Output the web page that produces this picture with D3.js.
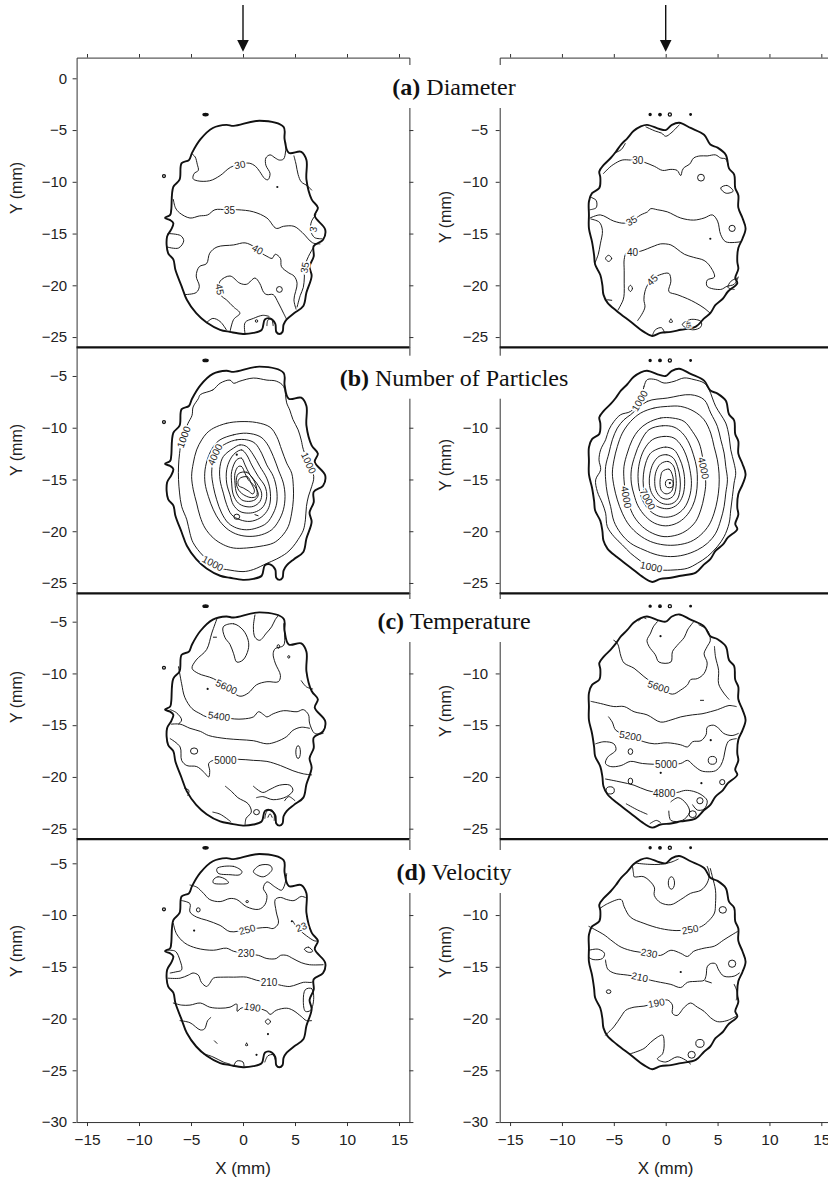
<!DOCTYPE html>
<html>
<head>
<meta charset="utf-8">
<script src="https://cdn.jsdelivr.net/npm/d3@7"></script>
<style>
  body { margin: 0; background: #fff; }
  svg { display: block; }
</style>
</head>
<body>
<svg id="chart" width="828" height="1179"></svg>
<script>
// ---------------- data (mm) ----------------
const xDomain = [-16, 16];
const xTicks = [-15, -10, -5, 0, 5, 10, 15];
const panelLetters = ["(a)", "(b)", "(c)", "(d)"];
const panelNames = ["Diameter", "Number of Particles", "Temperature", "Velocity"];
const yDomains = [[2, -26], [-2.2, -26], [-2.2, -26], [-2.7, -30]];
const yTicksLeft = [
  [0, -5, -10, -15, -20, -25],
  [-5, -10, -15, -20, -25],
  [-5, -10, -15, -20, -25],
  [-5, -10, -15, -20, -25, -30]
];
const yTicksRight = [
  [-5, -10, -15, -20, -25],
  [-10, -15, -20, -25],
  [-10, -15, -20, -25],
  [-10, -15, -20, -25, -30]
];

// outer edge of the measured spray region (thick outline)
const boundaryLeft = [[-0.9,-4.6],[1.6,-4.1],[3.9,-4.7],[4.0,-5.9],[4.4,-7.2],[5.6,-7.1],[6.1,-7.9],[6.1,-9.8],[6.6,-11.7],[7.2,-12.5],[6.9,-13.3],[7.9,-14.6],[7.7,-15.6],[6.8,-16.2],[6.8,-17.2],[6.4,-18.2],[6.6,-19.1],[6.1,-20.7],[5.8,-22.0],[4.9,-22.7],[4.2,-23.3],[3.9,-23.8],[3.8,-24.5],[3.5,-24.7],[3.2,-24.5],[3.1,-23.7],[2.6,-23.2],[2.1,-23.3],[1.8,-24.3],[1.0,-24.6],[0,-24.7],[-1.25,-24.5],[-2.2,-24.3],[-3.5,-23.6],[-4.5,-22.7],[-5.4,-21.4],[-5.9,-20.1],[-6.5,-18.5],[-6.7,-17.5],[-7.2,-16.9],[-7.3,-15.3],[-6.9,-14.6],[-6.7,-14.0],[-7.0,-13.7],[-7.5,-13.5],[-7.0,-13.2],[-6.9,-12.7],[-6.7,-10.5],[-6.1,-9.8],[-5.9,-8.2],[-5.2,-7.9],[-4.9,-7.2],[-4.1,-5.9],[-2.9,-4.8],[-1.6,-4.5]];
const boundaryRight = [[-2.4,-4.65],[-1.8,-4.5],[-0.6,-4.9],[0,-5.0],[0.6,-4.5],[1.3,-4.3],[2.4,-4.8],[3.7,-5.45],[4.3,-6.4],[5.0,-6.7],[5.8,-7.4],[6.1,-8.7],[6.6,-9.3],[6.7,-10.6],[7.0,-11.3],[7.0,-12.5],[7.4,-13.5],[7.7,-14.5],[7.4,-15.5],[7.0,-16.4],[6.9,-17.7],[7.0,-18.4],[6.7,-19.3],[6.9,-19.8],[6.0,-20.6],[5.5,-21.3],[4.8,-21.9],[4.3,-22.7],[3.7,-23.2],[2.9,-24.0],[1.45,-24.3],[0.5,-24.5],[-0.5,-24.6],[-1.3,-24.9],[-2.1,-24.5],[-3.4,-23.5],[-4.7,-22.5],[-5.6,-21.7],[-6.0,-20.9],[-6.1,-20.0],[-6.3,-19.0],[-6.8,-18.0],[-6.9,-17.1],[-7.1,-15.8],[-7.4,-14.5],[-7.4,-13.2],[-7.4,-11.9],[-7.1,-11.1],[-6.4,-10.6],[-6.3,-9.6],[-6.4,-9.0],[-5.95,-8.35],[-5.3,-7.7],[-4.8,-7.1],[-4.3,-6.4],[-3.7,-5.8],[-3.1,-5.1]];

// isolated specks outside the outline
const specksLeft = [{e:[-3.6,-3.5,0.25,0.12], fill:1}, {e:[-7.6,-9.45,0.14,0.14]}];
const specksRight = [{e:[-1.5,-3.5,0.1,0.1], fill:1}, {e:[-0.55,-3.5,0.12,0.12], fill:1}, {e:[0.4,-3.5,0.15,0.15]}, {e:[2.4,-3.5,0.05,0.05], fill:1}];

// (a) Diameter, left
const contoursAL = [
  {v:30, p:[[-4.9,-7.3],[-4.6,-7.6],[-4.4,-8.3],[-4.3,-8.9],[-4.7,-9.2],[-4.8,-9.7],[-4.4,-9.9],[-3.2,-9.9],[-2.2,-9.4],[-1.2,-8.6],[-0.2,-8.3],[0.6,-8.2],[1.2,-8.5],[1.6,-9.0],[2.1,-9.7],[2.4,-9.8],[2.6,-9.2],[2.2,-8.4],[2.2,-7.7],[2.6,-7.4],[3.1,-7.7],[3.5,-7.9],[3.9,-7.8],[4.1,-7.0],[4.1,-6.2]], lab:[[-0.3,-8.35,-10]]},
  {v:30, p:[[4.9,-7.5],[5.1,-8.3],[5.3,-9.3],[5.6,-10.0],[6.2,-10.4],[6.6,-10.8]]},
  {v:35, p:[[-6.7,-11.7],[-6.5,-12.5],[-6.1,-13.0],[-5.1,-13.5],[-4.2,-13.3],[-3.4,-13.2],[-2.7,-12.7],[-1.6,-12.7],[-0.5,-12.7],[1.0,-12.9],[2.3,-13.5],[3.2,-14.5],[3.9,-14.3],[4.9,-14.3],[5.7,-14.9],[6.7,-15.9],[7.4,-16.0]], lab:[[-1.3,-12.75,0]]},
  {v:35, p:[[7.0,-13.2],[6.6,-13.8],[6.5,-14.7],[6.9,-15.4],[7.6,-15.5]], lab:[[6.75,-14.6,-80,1]]},
  {v:35, p:[[-7.2,-15.0],[-6.0,-15.2],[-5.7,-15.7],[-6.2,-16.4],[-7.3,-16.3]]},
  {v:40, p:[[-5.6,-20.9],[-4.5,-20.7],[-4.2,-20.1],[-4.5,-19.1],[-4.2,-18.2],[-3.5,-17.9],[-3.2,-16.9],[-2.5,-16.3],[-0.9,-16.1],[0.2,-15.9],[1.1,-16.3],[1.8,-16.9],[2.3,-17.2],[2.8,-17.4],[3.1,-17.0],[3.6,-17.4],[3.7,-18.2],[4.4,-18.8],[4.9,-19.1],[5.2,-19.8],[4.9,-21.4],[5.1,-22.3]], lab:[[1.4,-16.55,30]]},
  {v:35, p:[[6.8,-16.3],[6.3,-17.2],[5.9,-18.3],[5.9,-19.2],[5.8,-20.2],[5.5,-21.0],[5.2,-22.1]], lab:[[5.95,-18.3,-80]]},
  {v:45, p:[[-1.25,-24.5],[-0.9,-23.3],[-0.3,-22.7],[-0.9,-22.1],[-1.6,-21.4],[-2.1,-21.0],[-2.3,-20.3],[-2.2,-19.6],[-1.25,-19.1],[-0.3,-19.8],[0.35,-19.9],[1.15,-19.3],[1.6,-19.8],[2.0,-20.7],[2.3,-20.9],[2.9,-20.9],[3.4,-21.7],[3.9,-22.7],[4.2,-23.3]], lab:[[-2.25,-20.4,80]]},
  {v:45, p:[[0.2,-24.7],[0.2,-23.6],[1.0,-23.2],[1.9,-22.9],[2.5,-23.0]]},
  {v:40, p:[[-3.5,-23.6],[-2.9,-23.2],[-2.2,-23.5],[-1.6,-24.3]]},
  {v:45, e:[3.5,-20.4,0.28,0.28]},
  {v:45, e:[1.3,-23.45,0.12,0.12]},
  {v:45, p:[[2.3,-23.9],[2.4,-23.35],[2.75,-23.3],[2.9,-23.9]]},
  {dot:[3.3,-10.5]}
];

// (a) Diameter, right
const contoursAR = [
  {v:30, p:[[-1.9,-4.7],[-1.0,-5.1],[-0.4,-5.3],[0,-5.6],[0.5,-5.3],[1.3,-4.5]]},
  {v:30, p:[[-4.9,-7.2],[-4.3,-6.9],[-3.9,-6.3]]},
  {v:30, p:[[-6.0,-9.2],[-5.4,-8.6],[-5.0,-8.3],[-4.2,-7.9],[-3.4,-7.9],[-2.7,-7.95],[-2.1,-8.1],[-1.1,-8.5],[-0.3,-8.9],[0.5,-8.8],[1.1,-8.9],[1.45,-9.4],[1.6,-8.9],[1.8,-8.6],[2.3,-8.3],[2.7,-7.7],[3.3,-7.5],[4.0,-7.5],[4.8,-7.4],[5.3,-7.7],[5.8,-7.8],[6.0,-8.3]], lab:[[-2.7,-7.95,0]]},
  {v:30, e:[3.4,-9.6,0.33,0.33]},
  {v:30, p:[[5.3,-10.6],[5.9,-10.35],[6.5,-10.9],[5.8,-11.1]], closed:1},
  {v:30, p:[[-7.2,-11.5],[-6.7,-11.8],[-6.7,-12.5],[-7.3,-12.7]]},
  {v:35, p:[[-7.3,-13.5],[-6.3,-13.2],[-5.0,-13.8],[-4.0,-14.0],[-3.3,-13.8],[-2.4,-13.2],[-1.75,-12.9],[-1.45,-12.6],[-0.8,-12.7],[0.15,-12.9],[1.45,-13.5],[2.7,-13.7],[3.7,-13.5],[4.5,-13.2],[5.0,-13.8],[5.3,-15.1],[5.8,-15.8],[7.2,-15.8]], lab:[[-3.3,-13.75,-30]]},
  {v:35, e:[6.4,-14.5,0.3,0.3]},
  {dot:[4.3,-15.5]},
  {v:40, p:[[-7.2,-13.6],[-6.4,-13.9],[-6.1,-14.7],[-6.3,-16.0],[-6.5,-17.0],[-6.8,-17.8]]},
  {v:40, p:[[-4.6,-22.4],[-4.1,-21.4],[-4.0,-20.8],[-4.0,-19.8],[-4.0,-18.6],[-4.0,-17.5],[-3.8,-16.9],[-3.2,-16.85],[-2.4,-16.7],[-1.1,-16.2],[-0.5,-16.0],[0.5,-16.1],[1.1,-16.5],[1.8,-17.0],[2.7,-17.3],[3.7,-17.6],[4.3,-18.2],[4.7,-19.2],[4.0,-19.5],[4.0,-20.1],[5.3,-20.4],[5.9,-20.1],[6.6,-19.9],[7.0,-19.2]], lab:[[-3.2,-16.85,0]]},
  {v:40, p:[[-5.5,-17.1],[-5.2,-17.4],[-5.5,-17.7],[-5.8,-17.4]], closed:1},
  {v:40, p:[[-3.4,-20.0],[-3.2,-20.3],[-3.4,-20.6],[-3.6,-20.3]], closed:1},
  {v:45, p:[[-2.7,-23.4],[-2.3,-22.8],[-2.0,-22.1],[-2.1,-21.4],[-2.0,-20.6],[-1.7,-19.9],[-1.0,-19.2],[-0.6,-19.0],[0.3,-18.85],[0.5,-19.6],[0.3,-20.6],[1.1,-20.9],[2.1,-21.3],[2.9,-21.7],[3.7,-22.2],[4.3,-22.7]], lab:[[-1.3,-19.5,-45]]},
  {v:45, p:[[1.6,-23.8],[2.4,-23.3],[3.4,-23.5],[3.4,-24.0],[2.6,-24.3]], closed:1, lab:[[2.2,-23.8,80,2,7]]},
  {v:45, p:[[-1.3,-24.9],[-1.0,-24.3],[-0.4,-24.1],[-0.1,-24.6]]},
  {v:45, p:[[0.35,-23.55],[0.5,-23.25],[0.65,-23.55]], closed:1},
  {v:40, p:[[6.9,-19.3],[6.3,-19.6],[6.0,-20.2],[6.6,-20.4]]},
  {v:40, p:[[-5.6,-21.4],[-5.2,-21.45]]}
];

// (b) Number of Particles, left
const contoursBL = [
  {v:1000, p:[[-4.1,-6.8],[-2.9,-6.35],[-2.2,-5.7],[-1.25,-5.4],[-0.9,-5.7],[-0.3,-5.5],[1.0,-5.2],[2.3,-5.4],[3.2,-5.5],[3.9,-6.0],[4.2,-7.6],[4.5,-8.3],[4.8,-9.2],[5.3,-10.2],[5.6,-11.2],[5.8,-12.1],[6.8,-14.7],[6.6,-15.7],[6.3,-16.6],[6.1,-17.6],[6.0,-18.9],[5.8,-19.9],[5.3,-20.8],[4.8,-21.5],[4.2,-22.1],[3.2,-22.7],[2.3,-23.1],[1.0,-23.7],[0,-23.9],[-1.6,-23.7],[-2.2,-23.6],[-3.8,-22.4],[-4.8,-21.1],[-5.1,-20.2],[-5.4,-18.9],[-5.9,-17.6],[-6.1,-16.3],[-6.2,-15.0],[-6.2,-13.7],[-6.1,-12.5],[-5.9,-11.2],[-5.3,-9.6],[-4.9,-8.8],[-4.8,-8.0],[-4.3,-7.2]], closed:1, lab:[[-5.7,-10.9,-70],[6.3,-13.4,65],[-2.9,-23.1,28]]},
  {v:2000, p:[[-2.85,-10.05],[-1.57,-9.57],[-0.29,-9.41],[1.31,-9.5],[2.6,-9.95],[3.24,-10.85],[3.72,-12.14],[4.2,-13.42],[4.68,-14.39],[4.84,-15.68],[4.84,-16.96],[4.68,-18.25],[4.36,-19.53],[3.72,-20.5],[2.92,-21.14],[1.63,-21.46],[0.35,-21.62],[-0.93,-21.62],[-1.89,-21.3],[-2.85,-20.66],[-3.65,-19.69],[-4.13,-18.57],[-4.46,-17.28],[-4.78,-16.0],[-4.94,-14.71],[-4.78,-13.42],[-4.46,-12.14],[-3.97,-11.17],[-3.49,-10.53]], closed:1},
  {v:3000, p:[[-2.21,-11.17],[-0.93,-10.69],[0.35,-10.53],[1.63,-10.85],[2.28,-11.5],[2.92,-12.78],[3.4,-14.07],[3.88,-15.35],[4.04,-16.64],[3.88,-17.93],[3.4,-19.05],[2.76,-19.86],[1.79,-20.34],[0.67,-20.5],[-0.45,-20.34],[-1.41,-19.86],[-2.21,-19.05],[-2.85,-17.93],[-3.33,-16.64],[-3.65,-15.35],[-3.65,-14.07],[-3.33,-12.78],[-2.85,-11.82]], closed:1},
  {v:4000, p:[[-1.57,-11.5],[-0.61,-11.17],[0.35,-11.17],[1.15,-11.5],[1.79,-12.46],[2.28,-13.59],[2.92,-14.71],[3.24,-16.0],[3.24,-17.28],[2.92,-18.25],[2.28,-19.21],[1.31,-19.69],[0.35,-19.86],[-0.61,-19.69],[-1.41,-19.21],[-2.05,-18.25],[-2.53,-16.96],[-2.85,-15.68],[-3.01,-14.39],[-2.85,-13.1],[-2.45,-12.14]], closed:1, lab:[[-2.7,-12.6,-65]]},
  {v:5000, p:[[-0.93,-11.98],[-0.29,-11.66],[0.35,-11.82],[0.99,-12.62],[1.63,-13.75],[2.28,-14.87],[2.6,-16.0],[2.6,-17.28],[2.28,-18.09],[1.63,-18.73],[0.67,-19.05],[-0.29,-18.89],[-1.09,-18.41],[-1.57,-17.44],[-1.89,-16.32],[-2.21,-15.03],[-2.21,-13.75],[-1.89,-12.78]], closed:1},
  {v:6000, p:[[-0.77,-12.46],[-0.13,-12.14],[0.35,-12.62],[0.83,-13.59],[1.47,-14.71],[2.12,-15.68],[2.28,-16.64],[1.96,-17.6],[1.31,-18.09],[0.51,-18.25],[-0.29,-18.09],[-0.93,-17.44],[-1.25,-16.48],[-1.57,-15.35],[-1.57,-14.07],[-1.25,-13.1]], closed:1},
  {v:7000, p:[[-0.61,-13.1],[-0.13,-12.94],[0.19,-13.59],[0.67,-14.55],[1.31,-15.35],[1.79,-16.32],[1.63,-17.12],[0.99,-17.6],[0.19,-17.6],[-0.45,-17.28],[-0.93,-16.48],[-1.09,-15.35],[-1.09,-14.23]], closed:1},
  {v:8000, p:[[-0.45,-13.75],[-0.13,-13.75],[0.19,-14.39],[0.51,-15.03],[1.15,-15.68],[1.47,-16.48],[1.15,-16.96],[0.51,-17.12],[-0.13,-16.96],[-0.61,-16.32],[-0.77,-15.35],[-0.77,-14.39]], closed:1},
  {v:9000, p:[[-0.45,-14.45],[0.35,-14.3],[0.99,-15.0],[1.31,-15.84],[1.31,-16.6],[0.83,-16.75],[0.19,-16.55],[-0.4,-16.05],[-0.65,-15.3]], closed:1},
  {v:10000, p:[[-0.25,-14.85],[0.45,-14.75],[0.78,-15.35],[1.1,-16.1],[0.95,-16.4],[0.5,-16.1],[0.03,-15.82],[-0.4,-15.62],[-0.48,-15.2]], closed:1},
  {v:3000, e:[-0.6,-18.6,0.28,0.25]},
  {v:3000, p:[[1.15,-18.4],[1.45,-18.5]]},
  {dot:[-0.6,-12.6]}
];

// (b) Number of Particles, right
const contoursBR = [
  {v:1000, p:[[-1.77,-5.35],[-2.09,-6.0],[-2.41,-7.29],[-3.38,-8.42],[-4.34,-8.74],[-4.98,-9.39],[-5.47,-10.19],[-5.79,-11.16],[-6.27,-12.13],[-6.43,-13.1],[-6.27,-14.06],[-6.75,-15.03],[-6.59,-16.16],[-6.11,-17.29],[-5.79,-18.26],[-5.63,-19.55],[-4.98,-20.52],[-4.18,-21.32],[-3.38,-22.13],[-2.57,-22.77],[-1.77,-23.4],[-0.48,-23.74],[0.8,-23.74],[2.09,-23.58],[3.05,-23.1],[4.02,-22.45],[4.98,-21.48],[5.63,-20.52],[6.11,-19.23],[6.27,-17.94],[6.43,-16.65],[6.59,-15.35],[6.75,-14.39],[6.59,-13.42],[6.27,-12.13],[6.11,-10.84],[5.79,-9.55],[5.31,-8.74],[4.82,-7.94],[4.5,-7.13],[4.18,-6.32],[3.7,-5.68],[2.73,-5.35],[1.77,-5.19],[0.8,-5.52],[-0.16,-5.68],[-0.96,-5.35]], closed:1, lab:[[-2.5,-7.4,-60],[-1.4,-23.45,12]]},
  {v:2000, p:[[-3.38,-8.74],[-1.77,-7.45],[0.16,-7.13],[2.41,-6.81],[3.7,-7.29],[4.34,-8.58],[4.98,-9.87],[5.31,-11.16],[5.63,-12.45],[5.79,-13.74],[5.95,-15.03],[5.79,-16.32],[5.63,-17.61],[5.31,-18.9],[4.82,-20.19],[4.02,-21.16],[3.05,-21.81],[1.77,-22.29],[0.48,-22.45],[-0.8,-22.29],[-2.09,-21.81],[-3.38,-21.16],[-4.34,-20.19],[-4.98,-19.06],[-5.31,-17.61],[-5.63,-16.32],[-5.79,-15.03],[-5.79,-13.74],[-5.47,-12.45],[-5.14,-11.16],[-4.66,-10.03],[-4.02,-9.23]], closed:1},
  {v:3000, p:[[-2.41,-8.58],[-1.13,-8.1],[0.16,-7.94],[1.45,-7.94],[2.73,-8.42],[3.7,-9.23],[4.34,-10.52],[4.66,-11.81],[4.98,-13.1],[5.14,-14.39],[5.14,-15.68],[4.98,-16.97],[4.66,-18.26],[4.18,-19.39],[3.38,-20.35],[2.41,-21.0],[1.13,-21.32],[-0.16,-21.32],[-1.45,-21.0],[-2.57,-20.35],[-3.54,-19.39],[-4.18,-18.26],[-4.66,-16.97],[-4.98,-15.68],[-5.14,-14.39],[-4.98,-13.1],[-4.66,-11.81],[-4.18,-10.52],[-3.38,-9.39]], closed:1},
  {v:4000, p:[[-1.77,-9.55],[-0.48,-9.06],[0.64,-9.06],[1.77,-9.39],[2.57,-10.35],[3.22,-11.48],[3.54,-12.77],[3.7,-14.06],[3.86,-15.35],[3.7,-16.65],[3.38,-17.94],[2.89,-19.06],[2.09,-19.87],[1.13,-20.35],[-0.16,-20.52],[-1.29,-20.19],[-2.25,-19.55],[-3.05,-18.58],[-3.54,-17.45],[-3.86,-16.32],[-4.02,-15.03],[-4.02,-13.74],[-3.7,-12.45],[-3.22,-11.16],[-2.57,-10.19]], closed:1, lab:[[3.65,-13.9,78],[-3.8,-16.7,80]]},
  {v:5000, p:[[-1.61,-10.19],[-0.32,-9.81],[0.8,-9.94],[1.61,-10.52],[2.25,-11.48],[2.67,-12.61],[2.99,-13.9],[3.05,-15.19],[2.93,-16.48],[2.57,-17.61],[1.93,-18.58],[1.06,-19.23],[0,-19.48],[-1.06,-19.23],[-1.93,-18.58],[-2.67,-17.55],[-3.05,-16.48],[-3.31,-15.35],[-3.31,-14.06],[-2.99,-12.77],[-2.41,-11.32]], closed:1},
  {v:6000, p:[[-1.29,-11.16],[-0.16,-10.84],[0.8,-11.0],[1.51,-11.74],[2.03,-12.84],[2.35,-14.13],[2.48,-15.42],[2.28,-16.71],[1.77,-17.77],[0.96,-18.42],[0,-18.65],[-0.9,-18.45],[-1.67,-17.87],[-2.25,-16.97],[-2.57,-15.84],[-2.67,-14.71],[-2.54,-13.42],[-2.09,-12.13]], closed:1},
  {v:7000, p:[[-0.96,-12.13],[0,-11.87],[0.8,-12.13],[1.32,-12.94],[1.7,-14.06],[1.83,-15.35],[1.64,-16.58],[1.13,-17.42],[0.32,-17.81],[-0.55,-17.71],[-1.38,-17.23],[-1.93,-16.58],[-2.15,-15.68],[-2.15,-14.55],[-1.93,-13.42],[-1.51,-12.52]], closed:1, lab:[[-1.75,-16.9,62]]},
  {v:8000, p:[[-0.64,-12.77],[0.1,-12.61],[0.74,-12.94],[1.13,-13.74],[1.38,-14.87],[1.38,-16.0],[1.13,-16.9],[0.55,-17.35],[-0.23,-17.35],[-0.87,-16.97],[-1.38,-16.26],[-1.58,-15.35],[-1.51,-14.39],[-1.19,-13.42]], closed:1},
  {v:9000, p:[[-0.48,-13.48],[0.23,-13.26],[0.74,-13.68],[0.96,-14.55],[1.0,-15.68],[0.74,-16.58],[0.16,-16.9],[-0.48,-16.71],[-0.93,-16.06],[-1.06,-15.19],[-0.93,-14.23]], closed:1},
  {v:10000, p:[[-0.32,-14.23],[0.32,-14.0],[0.64,-14.55],[0.74,-15.42],[0.55,-16.16],[0.03,-16.39],[-0.42,-16.06],[-0.55,-15.29],[-0.48,-14.71]], closed:1},
  {v:11000, e:[0.35,-15.4,0.38,0.4]},
  {dot:[0.4,-15.35]}
];

// (c) Temperature, left
const contoursCL = [
  {v:5600, p:[[-2.5,-4.7],[-3.0,-6.1],[-3.5,-7.7],[-4.5,-8.7],[-4.9,-9.5],[-4.3,-10.0],[-2.85,-10.5],[-1.6,-11.3],[-0.3,-12.2],[0.5,-11.9],[1.3,-11.1],[2.3,-10.8],[3.4,-10.8],[3.6,-10.2],[3.1,-9.0],[2.9,-8.1],[3.1,-7.6],[3.9,-7.3],[4.0,-6.2],[3.9,-5.2]], lab:[[-1.6,-11.3,25]]},
  {v:5800, p:[[-1.9,-5.5],[-0.9,-5.2],[0.0,-5.8],[0.5,-6.8],[0.5,-7.7],[0,-8.7],[-0.6,-8.9],[-0.9,-8.1],[-1.25,-7.2],[-1.75,-6.5]], closed:1},
  {v:5800, p:[[1.15,-4.35],[1.0,-5.5],[1.15,-6.5],[1.6,-6.8],[2.25,-6.1],[2.75,-5.5],[3.1,-4.8],[3.4,-4.4]]},
  {v:5800, e:[3.4,-7.4,0.12,0.18]},
  {v:5800, e:[4.4,-8.4,0.1,0.12]},
  {v:5800, p:[[-2.85,-6.5],[-2.55,-6.5]]},
  {dot:[-3.4,-11.5]},
  {v:5600, p:[[5.6,-10.7],[6.1,-11.3],[6.7,-11.5]]},
  {v:5400, p:[[-6.2,-9.35],[-5.9,-11.0],[-5.6,-12.3],[-4.9,-13.4],[-4.1,-13.9],[-3.5,-14.2],[-2.3,-14.2],[-0.8,-14.4],[0,-14.4],[1.0,-14.2],[1.5,-13.7],[2.0,-14.0],[2.3,-14.2],[2.9,-13.9],[3.9,-13.6],[5.2,-13.7],[5.8,-13.5],[6.3,-14.0],[6.4,-14.8],[6.9,-15.8],[7.7,-15.8]], lab:[[-2.3,-14.15,8]]},
  {v:5200, p:[[-6.9,-14.9],[-6.05,-14.9],[-5.1,-15.3],[-4.1,-15.6],[-3.3,-16.0],[-1.6,-16.3],[-0.3,-16.4],[1.0,-16.5],[2.3,-16.8],[3.2,-16.6],[4.2,-16.1],[4.8,-15.5],[5.6,-15.2],[6.4,-15.3]]},
  {v:5400, p:[[-7.0,-13.5],[-6.4,-13.8],[-5.9,-14.5],[-6.2,-14.9]]},
  {v:5000, p:[[-7.0,-16.3],[-6.05,-17.1],[-5.9,-18.4],[-5.4,-18.9],[-4.45,-19.0],[-3.8,-19.5],[-3.3,-20.0],[-3.2,-19.4],[-3.3,-18.7],[-2.85,-18.4],[-1.7,-18.4],[-0.45,-18.3],[1.0,-18.4],[2.3,-18.5],[3.6,-18.9],[4.8,-19.4],[5.8,-19.7],[6.6,-19.8]], lab:[[-1.7,-18.4,0]]},
  {v:5200, e:[-4.7,-17.5,0.35,0.3]},
  {v:5200, e:[5.3,-17.6,0.22,0.62]},
  {v:4800, p:[[-1.7,-20.9],[-1.1,-21.4],[-0.5,-22.0],[0.5,-22.6],[0.8,-23.4],[0.3,-24.0],[0.2,-24.6]]},
  {v:4800, p:[[-2.9,-23.4],[-2.2,-23.6],[-1.2,-24.3]]},
  {v:4800, p:[[1.0,-20.9],[1.9,-21.5],[2.6,-21.2],[3.5,-20.8],[4.5,-20.8],[4.8,-21.3],[4.2,-21.9],[2.9,-22.2],[1.9,-21.9],[1.3,-22.0]]},
  {v:4800, e:[1.3,-23.4,0.28,0.25]},
  {v:4800, p:[[2.1,-24.0],[2.3,-23.3],[2.8,-23.2],[3.0,-23.6],[3.0,-24.2]]},
  {v:4800, p:[[2.4,-23.9],[2.6,-23.55],[2.8,-23.9]]},
  {v:4800, p:[[-5.6,-21.1],[-5.2,-21.3],[-5.3,-21.8]]},
  {v:4800, p:[[4.0,-22.3],[4.4,-21.9],[5.0,-22.3]]}
];

// (c) Temperature, right
const contoursCR = [
  {v:5800, p:[[-2.6,-4.9],[-2.2,-4.6],[-1.9,-4.7]]},
  {v:5800, p:[[-0.8,-5.0],[-1.2,-5.5],[-1.45,-6.1],[-1.8,-6.8],[-1.6,-7.4],[-1.0,-8.2],[-0.65,-8.9],[0.5,-8.9],[0.65,-7.9],[1.1,-7.3],[1.8,-6.5],[2.1,-5.8],[2.7,-5.0]]},
  {dot:[-0.5,-6.4]},
  {v:5600, p:[[-5.0,-6.8],[-4.65,-7.1],[-4.3,-8.4],[-4.0,-9.0],[-3.05,-9.5],[-2.1,-10.3],[-0.7,-11.3],[0.65,-12.0],[1.45,-11.6],[2.1,-11.1],[2.4,-10.6],[3.05,-10.5],[3.7,-10.0],[4.0,-9.0],[3.7,-8.1],[4.0,-7.4],[4.3,-6.8],[4.0,-5.8],[3.2,-5.3]], lab:[[-0.7,-11.3,18]]},
  {v:5400, p:[[4.7,-7.4],[4.8,-8.4],[5.1,-9.7],[5.1,-11.0],[5.6,-11.9],[6.1,-12.5]]},
  {v:5400, p:[[3.35,-12.6],[3.65,-12.6]]},
  {v:5400, p:[[-7.2,-12.7],[-6.3,-12.9],[-5.0,-13.2],[-4.0,-13.2],[-3.05,-13.7],[-1.8,-14.0],[-0.5,-14.7],[0.5,-14.5],[1.45,-14.2],[2.6,-14.0],[3.5,-13.9],[4.3,-13.7],[5.0,-13.5],[5.5,-13.3],[6.1,-13.1],[6.8,-13.2]]},
  {v:5200, p:[[-5.5,-14.2],[-5.15,-14.7],[-4.8,-15.5],[-3.4,-16.05],[-2.1,-16.6],[-1.1,-16.8],[0.15,-16.7],[1.45,-16.9],[2.1,-17.1],[2.6,-16.6],[3.4,-16.5],[3.9,-15.9],[4.0,-15.2],[4.6,-15.0],[5.1,-15.3],[5.6,-15.8],[6.4,-16.0],[7.0,-15.8]], lab:[[-3.4,-16.05,10]]},
  {v:5000, e:[-3.4,-17.55,0.22,0.28]},
  {dot:[4.34,-16.45]},
  {v:5000, e:[4.5,-18.4,0.4,0.38]},
  {v:4800, e:[-3.4,-20.4,0.22,0.28]},
  {v:4800, e:[-5.35,-21.3,0.4,0.35]},
  {v:4800, e:[5.45,-20.5,0.25,0.25]},
  {dot:[3.44,-20.6]},
  {dot:[-0.48,-19.6]},
  {v:5000, p:[[-6.75,-16.8],[-5.95,-16.6],[-5.0,-16.8],[-4.8,-17.4],[-5.6,-18.1],[-5.8,-18.7],[-5.3,-19.0],[-4.3,-18.9],[-3.4,-18.5],[-2.25,-18.7],[0.05,-18.8],[1.45,-18.7],[2.1,-18.4],[2.7,-18.9],[3.4,-19.4],[4.0,-19.5],[4.8,-19.4],[5.3,-18.9],[5.6,-18.1],[5.8,-17.1],[6.1,-16.5],[6.8,-16.3]], lab:[[0.05,-18.8,0]]},
  {v:4800, p:[[-5.8,-20.2],[-4.3,-20.5],[-3.05,-20.8],[-1.8,-21.3],[-0.15,-21.6],[1.1,-21.5],[1.9,-21.3],[2.7,-21.4],[3.4,-21.7],[4.0,-22.3],[3.7,-23.1],[3.05,-23.2],[2.6,-22.7]], lab:[[-0.15,-21.6,0]]},
  {v:4800, p:[[0.5,-22.4],[1.2,-22.0],[2.0,-22.6],[2.3,-23.4],[1.6,-24.2],[0.5,-24.2],[0.3,-23.3]]},
  {v:4800, e:[3.3,-22.3,0.3,0.3]},
  {v:4800, e:[2.6,-23.6,0.35,0.33]},
  {v:4800, p:[[-1.5,-24.5],[-0.9,-24.2],[-0.5,-24.4]]},
  {v:4800, p:[[-3.8,-22.6],[-2.7,-23.2],[-1.8,-23.6]]}
];

// (d) Velocity, left
const contoursDL = [
  {v:270, p:[[-2.5,-5.5],[-0.9,-5.3],[-0.1,-5.8],[-0.3,-6.1],[-1.25,-6.1],[-2.4,-5.95]], closed:1},
  {v:270, p:[[1.0,-5.8],[1.6,-5.2],[2.6,-5.2],[2.8,-5.6],[2.0,-6.3],[1.3,-6.1]], closed:1},
  {v:270, p:[[-2.85,-6.6],[-2.4,-6.3],[-1.6,-6.6],[-1.4,-6.9],[-2.2,-7.0],[-2.85,-6.9]], closed:1},
  {v:270, p:[[-5.1,-7.1],[-4.45,-7.3],[-3.8,-7.9],[-3.2,-8.5],[-2.2,-8.7],[-1.25,-8.4],[-0.6,-8.5],[0.35,-9.2],[1.5,-9.45],[2.1,-9.0],[2.3,-8.1],[1.95,-7.4],[2.3,-6.8],[3.1,-7.3],[3.7,-7.6],[4.0,-7.1],[4.2,-6.0]]},
  {v:250, p:[[-5.9,-8.6],[-5.1,-8.9],[-5.1,-9.7],[-4.45,-10.2],[-3.5,-10.5],[-2.2,-11.0],[-1.25,-11.6],[0.4,-11.4],[2.3,-11.2],[2.9,-11.3],[3.4,-10.8],[3.2,-9.7],[3.1,-8.5],[3.6,-8.3],[4.2,-8.5],[4.9,-8.6],[5.6,-8.2],[6.0,-8.3]], lab:[[0.4,-11.4,-15]]},
  {v:250, e:[-4.3,-9.5,0.18,0.2]},
  {dot:[-4.7,-11.5]},
  {v:270, e:[0.4,-8.7,0.12,0.1]},
  {dot:[4.7,-10.6]},
  {v:230, p:[[4.8,-10.6],[5.2,-11.2],[6.1,-12.0],[6.9,-12.5],[7.2,-12.5]], lab:[[5.6,-11.15,-20,2]]},
  {v:230, p:[[5.9,-13.3],[6.3,-13.1],[6.7,-13.5],[6.3,-13.6]], closed:1},
  {v:230, p:[[-6.7,-10.8],[-6.4,-11.8],[-5.6,-12.7],[-4.45,-13.2],[-2.85,-13.4],[-1.6,-13.2],[-0.9,-13.5],[0.3,-13.7],[1.5,-13.9],[2.3,-14.2],[3.2,-14.2],[3.6,-13.9],[4.2,-13.9],[4.8,-14.2],[5.6,-14.6],[6.4,-14.8],[7.7,-14.8]], lab:[[0.3,-13.7,0]]},
  {v:230, p:[[-7.2,-13.4],[-6.5,-13.5],[-6.05,-14.4],[-5.9,-15.3],[-6.5,-15.5],[-7.0,-15.6]]},
  {v:210, p:[[-7.2,-16.1],[-6.05,-16.1],[-5.25,-15.8],[-4.8,-15.6],[-4.3,-15.8],[-4.0,-16.5],[-3.5,-16.9],[-3.2,-16.6],[-2.85,-16.1],[-1.9,-16.0],[-0.9,-16.0],[0.35,-16.0],[1.3,-16.3],[2.5,-16.5],[3.7,-16.8],[4.5,-16.9],[5.2,-16.7],[5.8,-16.5],[6.6,-16.5],[6.8,-16.4]], lab:[[2.5,-16.5,0]]},
  {v:210, p:[[6.0,-17.2],[6.6,-17.1],[6.8,-18.0],[6.5,-19.2],[6.0,-19.3],[5.8,-18.3]], closed:1},
  {v:190, p:[[-6.7,-18.5],[-5.9,-18.7],[-5.1,-18.7],[-4.1,-18.5],[-3.2,-18.9],[-2.2,-19.0],[-1.25,-18.9],[-0.6,-18.6],[-0.55,-19.3],[-0.2,-19.0],[0.9,-18.9],[2.3,-19.3],[2.6,-19.6],[3.2,-19.2],[4.2,-19.0],[4.8,-19.2],[5.6,-19.8],[6.1,-20.2],[6.6,-20.2]], lab:[[0.9,-18.9,10]]},
  {v:190, p:[[2.4,-20.05],[2.65,-20.3],[2.4,-20.55],[2.15,-20.3]], closed:1},
  {dot:[2.4,-21.5]},
  {v:170, p:[[-2.75,-22.15],[-2.5,-22.4]]},
  {v:170, p:[[0.25,-22.6],[0.35,-22.35],[0.45,-22.6]], closed:1},
  {dot:[1.3,-23.5]},
  {v:190, p:[[-6.05,-20.2],[-5.1,-20.4],[-4.1,-21.1],[-3.7,-21.0],[-3.4,-20.2],[-3.1,-19.9]]},
  {v:170, p:[[-3.8,-23.4],[-2.9,-23.7],[-1.9,-24.2],[-1.25,-24.4]]},
  {v:170, p:[[-0.9,-24.6],[-0.6,-24.1],[0.0,-24.2],[0.1,-24.6]]},
  {v:170, p:[[2.1,-24.2],[2.4,-23.6],[2.9,-23.5],[3.1,-24.0]]}
];

// (d) Velocity, right
const contoursDR = [
  {v:270, p:[[-2.8,-5.0],[-1.6,-5.1],[-0.5,-5.1],[0.5,-4.9],[1.2,-4.6]]},
  {v:270, p:[[-3.2,-5.3],[-3.1,-6.0],[-3.05,-6.3],[-2.1,-6.3],[-1.1,-7.3],[-1.1,-8.1],[-0.5,-8.8],[0.5,-9.0],[1.45,-8.5],[2.4,-7.9],[3.4,-7.6],[4.0,-6.9],[4.2,-6.0],[4.0,-5.3]]},
  {v:270, e:[0.55,-6.9,0.3,0.6]},
  {v:250, e:[5.5,-9.5,0.35,0.32]},
  {v:250, p:[[-6.4,-9.4],[-5.6,-8.9],[-4.3,-8.5],[-4.0,-9.2],[-3.4,-10.2],[-2.1,-10.8],[-0.5,-11.3],[1.0,-11.5],[2.35,-11.4],[3.45,-11.1],[4.2,-10.5],[4.7,-9.8],[4.8,-8.9],[4.8,-7.6],[4.5,-6.3],[4.3,-5.5]], lab:[[2.35,-11.4,-10]]},
  {v:230, p:[[-7.4,-11.1],[-5.95,-11.9],[-5.3,-12.4],[-4.3,-13.1],[-3.05,-13.5],[-1.6,-13.7],[-0.5,-13.9],[0.5,-13.4],[1.45,-13.7],[2.1,-14.0],[2.7,-13.5],[3.7,-13.2],[4.7,-13.0],[5.6,-12.4],[6.4,-11.9],[6.9,-11.6]], lab:[[-1.6,-13.7,10]]},
  {v:230, p:[[-7.4,-13.4],[-6.5,-13.3],[-5.9,-13.7],[-6.1,-14.2],[-7.0,-14.3],[-7.4,-14.1]]},
  {v:230, e:[6.4,-14.7,0.35,0.35]},
  {v:210, p:[[-5.8,-14.35],[-5.6,-15.2],[-5.0,-15.6],[-3.7,-15.8],[-2.5,-16.0],[-1.45,-16.3],[-0.5,-16.5],[0.5,-16.7],[1.45,-17.0],[2.1,-16.5],[3.05,-16.4],[3.7,-16.3],[3.9,-15.8],[4.0,-15.0],[4.3,-14.7],[4.8,-14.7],[5.1,-15.3],[5.6,-15.9],[6.6,-15.9],[7.1,-15.6]], lab:[[-2.5,-16.0,12]]},
  {v:210, p:[[3.8,-16.35],[4.4,-16.55]]},
  {dot:[1.45,-15.5]},
  {v:210, e:[-5.5,-17.4,0.22,0.18]},
  {v:210, p:[[6.6,-16.7],[6.9,-17.5],[6.8,-18.2]]},
  {v:190, p:[[-5.8,-21.6],[-5.0,-20.8],[-4.3,-19.8],[-3.85,-19.2],[-3.05,-18.9],[-2.1,-18.8],[-0.9,-18.5],[0.15,-18.2],[0.65,-18.7],[0.65,-19.5],[1.1,-19.7],[1.8,-18.9],[2.4,-18.5],[3.05,-18.9],[3.7,-19.3],[4.3,-19.9],[5.0,-20.3],[5.9,-20.2],[6.75,-19.8]], lab:[[-0.9,-18.5,-10]]},
  {v:170, p:[[-3.4,-23.4],[-2.1,-22.9],[-1.45,-22.3],[-0.8,-21.8],[-0.3,-21.6],[-0.15,-22.4],[-0.3,-23.4],[-0.8,-23.9],[0,-24.2],[1.1,-23.7],[1.9,-24.0],[2.4,-24.4]]},
  {v:170, e:[3.3,-22.4,0.4,0.38]},
  {v:170, e:[2.5,-23.5,0.35,0.33]}
];

const panelContours = [
  [contoursAL, contoursAR],
  [contoursBL, contoursBR],
  [contoursCL, contoursCR],
  [contoursDL, contoursDR]
];

// ---------------- layout ----------------
const svg = d3.select("#chart");
const colRange = [[76.6, 409.4], [499.7, 831.7]];
const rowTop = [57.6, 347.0, 592.7, 839.5];
const pxPerMm = 10.35;
const titleBaseline = [95, 385.7, 629, 880];
const titleCx = 454;
const yLabelLeft = [188, 450, 697, 951];
const yLabelRight = [217, 465, 711, 952];
const ink = "#111";

const xScales = colRange.map(r => d3.scaleLinear().domain(xDomain).range(r));
const yScales = yDomains.map((d, i) =>
  d3.scaleLinear().domain(d).range([rowTop[i], rowTop[i] + (d[0] - d[1]) * pxPerMm]));

const defs = svg.append("defs");
const fontSans = "'Liberation Sans', Arial, Helvetica, sans-serif";
const fontSerif = "'Liberation Serif', 'Times New Roman', Times, serif";

function drawPanel(row, col) {
  const xs = xScales[col], ys = yScales[row];
  const id = `clip-${row}-${col}`;
  const [x0, x1] = xs.range(), [y0, y1] = ys.range();
  defs.append("clipPath").attr("id", id)
    .append("rect").attr("x", x0).attr("y", y0).attr("width", x1 - x0).attr("height", y1 - y0);
  const g = svg.append("g").attr("clip-path", `url(#${id})`);

  const open = d3.line().x(d => xs(d[0])).y(d => ys(d[1])).curve(d3.curveCatmullRom.alpha(0.5));
  const closed = d3.line().x(d => xs(d[0])).y(d => ys(d[1])).curve(d3.curveCatmullRomClosed.alpha(0.5));
  const sx = v => Math.abs(xs(v) - xs(0));
  const sy = v => Math.abs(ys(v) - ys(0));
  const contours = panelContours[row][col];

  contours.forEach(c => {
    if (c.p) {
      g.append("path").attr("d", (c.closed ? closed : open)(c.p))
        .attr("fill", "none").attr("stroke", ink).attr("stroke-width", 0.95)
        .attr("stroke-linejoin", "round").attr("stroke-linecap", "round");
    } else if (c.e) {
      g.append("ellipse").attr("cx", xs(c.e[0])).attr("cy", ys(c.e[1]))
        .attr("rx", sx(c.e[2])).attr("ry", sy(c.e[3]))
        .attr("fill", "none").attr("stroke", ink).attr("stroke-width", 0.95);
    } else if (c.dot) {
      g.append("circle").attr("cx", xs(c.dot[0])).attr("cy", ys(c.dot[1]))
        .attr("r", 1.1).attr("fill", ink);
    }
  });

  // thick outline
  const boundary = col === 0 ? boundaryLeft : boundaryRight;
  g.append("path").attr("d", closed(boundary))
    .attr("fill", "none").attr("stroke", ink).attr("stroke-width", 1.9).attr("stroke-linejoin", "round");

  const specks = col === 0 ? specksLeft : specksRight;
  specks.forEach(s => {
    g.append("ellipse").attr("cx", xs(s.e[0])).attr("cy", ys(s.e[1]))
      .attr("rx", Math.max(sx(s.e[2]), 0.8)).attr("ry", Math.max(sy(s.e[3]), 0.8))
      .attr("fill", s.fill ? ink : "none").attr("stroke", ink).attr("stroke-width", 1.3);
  });

  // contour level labels: [x, y, angle, visible characters, font size]
  contours.filter(c => c.lab).forEach(c => {
    c.lab.forEach(l => {
      const txt = l[3] ? String(c.v).slice(0, l[3]) : String(c.v);
      g.append("text")
        .attr("transform", `translate(${xs(l[0])},${ys(l[1])}) rotate(${l[2]})`)
        .attr("text-anchor", "middle").attr("dy", "0.35em")
        .attr("font-family", fontSans).attr("font-size", l[4] || 10)
        .attr("fill", "#222").attr("stroke", "#fff").attr("stroke-width", l[4] ? 2 : 3.2)
        .attr("paint-order", "stroke")
        .text(txt);
    });
  });
}

for (let r = 0; r < 4; r++) for (let c = 0; c < 2; c++) drawPanel(r, c);

// ---------------- axes ----------------
function styleAxis(sel, fontSize) {
  sel.selectAll("path.domain").attr("stroke", "#333").attr("stroke-width", 1);
  sel.selectAll(".tick line").attr("stroke", "#333").attr("stroke-width", 1);
  sel.selectAll(".tick text").attr("font-family", fontSans).attr("font-size", fontSize).attr("fill", "#222");
  sel.attr("font-family", null).attr("font-size", null);
}

for (let r = 0; r < 4; r++) {
  const ys = yScales[r];
  for (let c = 0; c < 2; c++) {
    const xs = xScales[c];
    const [x0, x1] = xs.range();
    const ticks = c === 0 ? yTicksLeft[r] : yTicksRight[r];
    const gl = svg.append("g").attr("transform", `translate(${x0},0)`)
      .call(d3.axisLeft(ys).tickValues(ticks).tickSize(4).tickPadding(c === 0 ? 5.5 : 7.5).tickSizeOuter(0));
    styleAxis(gl, 15);
    const gr = svg.append("g").attr("transform", `translate(${x1},0)`)
      .call(d3.axisRight(ys).tickValues(yTicksLeft[r]).tickSize(4).tickFormat("").tickSizeOuter(0));
    styleAxis(gr, 15);
    if (r === 0) {
      const gt = svg.append("g").attr("transform", `translate(0,${ys.range()[0]})`)
        .call(d3.axisTop(xs).tickValues(xTicks).tickSize(3.6).tickFormat("").tickSizeOuter(0));
      styleAxis(gt, 15);
    }
    if (r < 3) {
      svg.append("line").attr("x1", x0).attr("x2", x1)
        .attr("y1", ys.range()[1]).attr("y2", ys.range()[1])
        .attr("stroke", ink).attr("stroke-width", 2.2);
    } else {
      const gb = svg.append("g").attr("transform", `translate(0,${ys.range()[1]})`)
        .call(d3.axisBottom(xs).tickValues(xTicks).tickSize(4).tickPadding(8).tickSizeOuter(0));
      styleAxis(gb, 15.5);
    }
  }
}

// axis titles
yLabelLeft.forEach(cy => {
  svg.append("text").attr("transform", `translate(22,${cy}) rotate(-90)`)
    .attr("text-anchor", "middle").attr("font-family", fontSans).attr("font-size", 16)
    .attr("fill", "#222").text("Y (mm)");
});
yLabelRight.forEach(cy => {
  svg.append("text").attr("transform", `translate(451,${cy}) rotate(-90)`)
    .attr("text-anchor", "middle").attr("font-family", fontSans).attr("font-size", 16)
    .attr("fill", "#222").text("Y (mm)");
});
xScales.forEach(xs => {
  svg.append("text").attr("x", xs(0)).attr("y", 1174)
    .attr("text-anchor", "middle").attr("font-family", fontSans).attr("font-size", 17)
    .attr("fill", "#222").text("X (mm)");
});

// panel titles on a white plate
panelLetters.forEach((letter, i) => {
  const gt = svg.append("g");
  const plate = gt.append("rect").attr("fill", "#fff");
  const t = gt.append("text").attr("x", titleCx).attr("y", titleBaseline[i])
    .attr("text-anchor", "middle").attr("font-family", fontSerif).attr("font-size", 24).attr("fill", "#111");
  t.append("tspan").attr("font-weight", "bold").text(letter);
  t.append("tspan").text(" " + panelNames[i]);
  const bb = t.node().getBBox();
  plate.attr("x", bb.x - 4).attr("width", bb.width + 8)
    .attr("y", titleBaseline[i] - 30).attr("height", 43);
});

// arrows marking the spray axis
xScales.forEach(xs => {
  const ax = xs(0);
  svg.append("line").attr("x1", ax).attr("x2", ax).attr("y1", 5).attr("y2", 41)
    .attr("stroke", ink).attr("stroke-width", 1.4);
  svg.append("path")
    .attr("d", d3.line()([[ax - 5.8, 40], [ax + 5.8, 40], [ax, 51.8]]) + "Z")
    .attr("fill", ink);
});
</script>
</body>
</html>
